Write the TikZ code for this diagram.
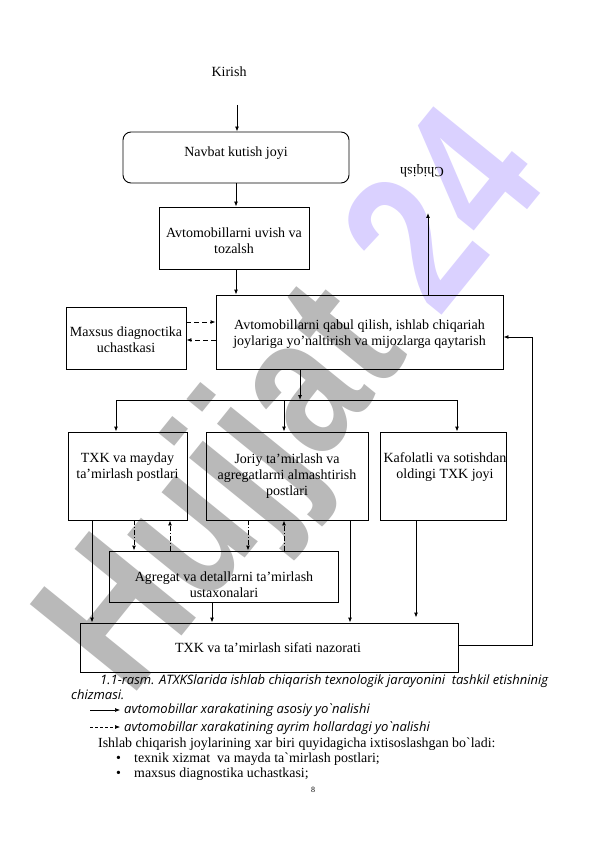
\documentclass[tikz,border=0pt]{standalone}
\usepackage{fontspec}
\setmainfont{Liberation Serif}
\newfontfamily\bodyfont{Liberation Serif}
\newfontfamily\capfont{Open Sans}
\newfontfamily\wmfont{Liberation Sans}
\usetikzlibrary{arrows.meta,calc}
\definecolor{wmgray}{RGB}{185,185,185}
\definecolor{wmpurple}{RGB}{218,209,255}
\begin{document}
\begin{tikzpicture}[x=1pt,y=-1pt,
  box/.style={draw, line width=0.9pt, inner sep=0pt},
  txt/.style={align=center, font=\fontsize{14}{16}\selectfont, inner sep=0pt},
  conn/.style={line width=0.9pt, -{Latex[length=5pt,width=4pt]}},
  line/.style={line width=0.9pt},
  dconn/.style={line width=0.9pt, dash pattern=on 5pt off 3pt, -{Latex[length=5pt,width=4pt]}},
  ddconn/.style={line width=0.9pt, dash pattern=on 5pt off 2pt on 1pt off 2pt, -{Latex[length=5pt,width=4pt]}},
  captxt/.style={anchor=west, inner sep=0pt, font=\capfont\itshape\fontsize{13}{15}\selectfont},
  body/.style={anchor=west, inner sep=0pt, font=\bodyfont\fontsize{13.9}{16}\selectfont}]
\useasboundingbox (0,0) rectangle (596,842);
\fill[white] (0,0) rectangle (596,842);
% watermark
\node[rotate=51, inner sep=0pt, font=\wmfont\bfseries\fontsize{200}{200}\selectfont] (wm) at (300,408) {\scalebox{0.8}[1]{\textcolor{wmgray}{Hujjat}~\textcolor{wmpurple}{24}}};

% boxes
\node[box, rounded corners=8pt, minimum width=226pt, minimum height=51pt] (navbat) at (236,157.5) {};
\node[txt] (navbatT) at (236,153) {Navbat kutish joyi};
\node[box, minimum width=150pt, minimum height=62pt] (uvish) at (234,238) {};
\node[txt] (uvishT) at (234,241) {Avtomobillarni uvish va\\tozalsh};
\node[box, minimum width=287pt, minimum height=74pt] (qabul) at (359.5,332) {};
\node[txt] (qabulT) at (359.5,334.5) {Avtomobillarni qabul qilish, ishlab chiqariah\\joylariga yo’naltirish va mijozlarga qaytarish};
\node[box, minimum width=120pt, minimum height=62pt] (maxsus) at (126,338) {};
\node[txt] (maxsusT) at (126,339.5) {Maxsus diagnoctika\\uchastkasi};
\node[box, minimum width=119pt, minimum height=88pt] (txk) at (127.5,476) {};
\node[txt] (txkT) at (127.5,467.5) {TXK va mayday\\ta’mirlash postlari};
\node[box, minimum width=162pt, minimum height=88pt] (joriy) at (287,476) {};
\node[txt] (joriyT) at (287,476) {Joriy ta’mirlash va\\agregatlarni almashtirish\\postlari};
\node[box, minimum width=126pt, minimum height=88pt] (kaf) at (443,476) {};
\node[txt] (kafT) at (445,467.5) {Kafolatli va sotishdan\\oldingi TXK joyi};
\node[box, minimum width=229pt, minimum height=51pt] (agr) at (224,576.5) {};
\node[txt] (agrT) at (224,584.5) {Agregat va detallarni ta’mirlash\\ustaxonalari};
\node[box, minimum width=378pt, minimum height=49pt] (naz) at (269,647.5) {};
\node[txt] (nazT) at (268,648) {TXK va ta’mirlash sifati nazorati};

\node[txt] (kirish) at (229,72) {Kirish};
\node[txt, rotate=180] (chiqish) at (422,171) {Chiqish};

% connectors
\coordinate (kin) at (237,105);
\draw[conn] (kin) -- (kin |- navbat.north);
\draw[conn] (navbat.south -| 236,0) -- (uvish.north -| 236,0);
\draw[conn] (uvish.south -| 236,0) -- (qabul.north -| 236,0);
\coordinate (cout) at (428,213);
\draw[conn] (qabul.north -| cout) -- (cout);
\draw[dconn] ([yshift=16pt]maxsus.east) -- ([yshift=16pt]maxsus.east -| qabul.west);
\draw[dconn] ([yshift=-8pt]qabul.west) -- ([yshift=-8pt]qabul.west -| maxsus.east);

\coordinate (split) at (300,400);
\draw[conn] (qabul.south -| split) -- (split);
\draw[line] (116,400) -- (457,400);
\draw[conn] (116,400) -- (txk.north -| 116,0);
\draw[conn] (284,400) -- (joriy.north -| 284,0);
\draw[conn] (457,400) -- (kaf.north -| 457,0);

\draw[ddconn] (txk.south -| 134,0) -- (agr.north -| 134,0);
\draw[ddconn] (agr.north -| 170,0) -- (txk.south -| 170,0);
\draw[ddconn] (joriy.south -| 248,0) -- (agr.north -| 248,0);
\draw[ddconn] (agr.north -| 284,0) -- (joriy.south -| 284,0);

\draw[conn] (txk.south -| 92,0) -- (naz.north -| 92,0);
\draw[conn] (agr.south -| 212,0) -- (naz.north -| 212,0);
\draw[conn] (joriy.south -| 350,0) -- (naz.north -| 350,0);
\draw[conn] (kaf.south -| 416,0) -- ([yshift=5pt]naz.north -| 416,0);
\draw[conn] ([yshift=2.5pt]naz.east) -- (532,645) -- (532,337) -- (qabul.east |- 0,337);

% caption
\node[captxt] (c1) at (100,681) {1.1-rasm. ATXKSlarida ishlab chiqarish texnologik jarayonini\ \ tashkil etishninig};
\node[captxt] (c2) at (71,695) {chizmasi.};
\coordinate (l1a) at (90,710);
\coordinate (l1b) at (120,710);
\draw[line width=0.6pt, -{Latex[length=5pt,width=4pt]}] (l1a) -- (l1b);
\node[captxt] (l1) at (124,710) {avtomobillar xarakatining asosiy yo`nalishi};
\coordinate (l2a) at (90,727);
\coordinate (l2b) at (120,727);
\draw[line width=0.6pt, dash pattern=on 3pt off 2pt, -{Latex[length=5pt,width=4pt]}] (l2a) -- (l2b);
\node[captxt] (l2) at (124,728) {avtomobillar xarakatining ayrim hollardagi yo`nalishi};
\node[body] (b0) at (98,744) {Ishlab chiqarish joylarining xar biri quyidagicha ixtisoslashgan bo`ladi:};
\node[body] (d1) at (116,759) {\textbullet};
\node[body] (b1) at (134,759) {texnik xizmat\ \ va mayda ta`mirlash postlari;};
\node[body] (d2) at (116,774) {\textbullet};
\node[body] (b2) at (134,774) {maxsus diagnostika uchastkasi;};
\node[inner sep=0pt, font=\fontsize{8}{9}\selectfont] (pg) at (313,790) {8};
\end{tikzpicture}
\end{document}
